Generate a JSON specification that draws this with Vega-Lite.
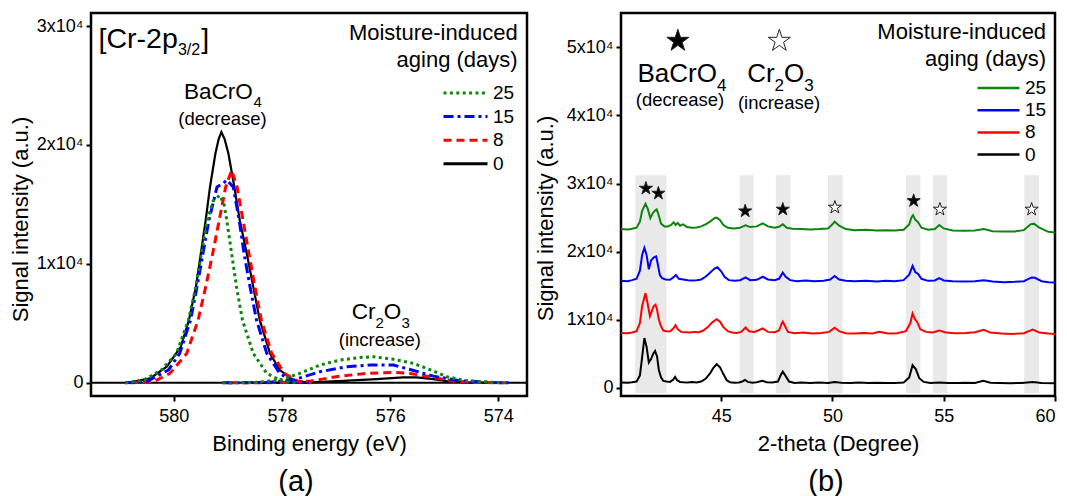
{
  "$schema": "https://vega.github.io/schema/vega-lite/v6.json",
  "background": "white",
  "padding": {"left": 8, "top": 11, "right": 5, "bottom": 0},
  "spacing": 0,
  "config": {
    "font": "Liberation Sans",
    "view": {"stroke": "#000", "strokeWidth": 2.5},
    "axis": {"grid": false, "domain": false, "tickColor": "#000", "tickWidth": 2, "tickSize": 5, "labelFontSize": 18, "labelColor": "#000", "labelPadding": 3, "titleFontSize": 22, "titleFontWeight": "normal", "titleColor": "#000"},
    "axisX": {"labelPadding": 6},
    "legend": {"labelFontSize": 19, "labelColor": "#000", "symbolType": "stroke", "padding": 0, "labelOffset": 4},
    "title": {"fontWeight": "normal", "color": "#000"}
  },
  "resolve": {"scale": {"color": "independent"}, "legend": {"color": "independent"}},
  "datasets": {
    "xps": [
      {"d":"0","p":"m","x":580.85,"y":0},{"d":"0","p":"m","x":580.44,"y":370},{"d":"0","p":"m","x":580.13,"y":1350},{"d":"0","p":"m","x":579.87,"y":3030},{"d":"0","p":"m","x":579.72,"y":5270},{"d":"0","p":"m","x":579.59,"y":8070},{"d":"0","p":"m","x":579.5,"y":10870},{"d":"0","p":"m","x":579.41,"y":13670},{"d":"0","p":"m","x":579.33,"y":16470},{"d":"0","p":"m","x":579.23,"y":19280},{"d":"0","p":"m","x":579.17,"y":20500},{"d":"0","p":"m","x":579.12,"y":21090},{"d":"0","p":"m","x":579.06,"y":20500},{"d":"0","p":"m","x":578.99,"y":19280},{"d":"0","p":"m","x":578.88,"y":16470},{"d":"0","p":"m","x":578.78,"y":13670},{"d":"0","p":"m","x":578.65,"y":10870},{"d":"0","p":"m","x":578.53,"y":8070},{"d":"0","p":"m","x":578.41,"y":5270},{"d":"0","p":"m","x":578.22,"y":2470},{"d":"0","p":"m","x":578.04,"y":1070},{"d":"0","p":"m","x":577.79,"y":230},{"d":"0","p":"m","x":577.5,"y":0},
      {"d":"0","p":"c","x":578.5,"y":0},{"d":"0","p":"c","x":577.48,"y":30},{"d":"0","p":"c","x":576.87,"y":170},{"d":"0","p":"c","x":576.25,"y":310},{"d":"0","p":"c","x":575.76,"y":450},{"d":"0","p":"c","x":575.51,"y":450},{"d":"0","p":"c","x":575.2,"y":310},{"d":"0","p":"c","x":574.95,"y":140},{"d":"0","p":"c","x":574.58,"y":30},{"d":"0","p":"c","x":574.0,"y":0},
      {"d":"8","p":"m","x":580.81,"y":0},{"d":"8","p":"m","x":580.38,"y":80},{"d":"8","p":"m","x":580.07,"y":790},{"d":"8","p":"m","x":579.76,"y":2470},{"d":"8","p":"m","x":579.55,"y":5270},{"d":"8","p":"m","x":579.41,"y":8070},{"d":"8","p":"m","x":579.28,"y":10870},{"d":"8","p":"m","x":579.16,"y":13670},{"d":"8","p":"m","x":579.04,"y":16470},{"d":"8","p":"m","x":578.93,"y":17870},{"d":"8","p":"m","x":578.83,"y":16470},{"d":"8","p":"m","x":578.72,"y":13670},{"d":"8","p":"m","x":578.61,"y":10870},{"d":"8","p":"m","x":578.5,"y":8070},{"d":"8","p":"m","x":578.38,"y":5270},{"d":"8","p":"m","x":578.19,"y":2470},{"d":"8","p":"m","x":577.95,"y":790},{"d":"8","p":"m","x":577.7,"y":100},{"d":"8","p":"m","x":577.45,"y":0},
      {"d":"8","p":"c","x":579.0,"y":0},{"d":"8","p":"c","x":578.0,"y":20},{"d":"8","p":"c","x":577.48,"y":140},{"d":"8","p":"c","x":576.93,"y":560},{"d":"8","p":"c","x":576.43,"y":790},{"d":"8","p":"c","x":575.94,"y":870},{"d":"8","p":"c","x":575.63,"y":790},{"d":"8","p":"c","x":575.2,"y":450},{"d":"8","p":"c","x":574.83,"y":140},{"d":"8","p":"c","x":574.46,"y":30},{"d":"8","p":"c","x":573.9,"y":0},
      {"d":"15","p":"m","x":580.9,"y":0},{"d":"15","p":"m","x":580.5,"y":100},{"d":"15","p":"m","x":580.1,"y":1070},{"d":"15","p":"m","x":579.89,"y":2470},{"d":"15","p":"m","x":579.69,"y":5270},{"d":"15","p":"m","x":579.57,"y":8070},{"d":"15","p":"m","x":579.46,"y":10870},{"d":"15","p":"m","x":579.35,"y":13670},{"d":"15","p":"m","x":579.2,"y":16470},{"d":"15","p":"m","x":579.08,"y":16800},{"d":"15","p":"m","x":579.02,"y":17050},{"d":"15","p":"m","x":578.9,"y":16470},{"d":"15","p":"m","x":578.79,"y":13670},{"d":"15","p":"m","x":578.7,"y":10870},{"d":"15","p":"m","x":578.59,"y":8070},{"d":"15","p":"m","x":578.47,"y":5270},{"d":"15","p":"m","x":578.28,"y":2470},{"d":"15","p":"m","x":578.04,"y":790},{"d":"15","p":"m","x":577.79,"y":100},{"d":"15","p":"m","x":577.5,"y":0},
      {"d":"15","p":"c","x":579.1,"y":0},{"d":"15","p":"c","x":578.3,"y":30},{"d":"15","p":"c","x":577.79,"y":230},{"d":"15","p":"c","x":577.3,"y":930},{"d":"15","p":"c","x":576.8,"y":1350},{"d":"15","p":"c","x":576.37,"y":1490},{"d":"15","p":"c","x":575.94,"y":1490},{"d":"15","p":"c","x":575.63,"y":1120},{"d":"15","p":"c","x":575.2,"y":560},{"d":"15","p":"c","x":574.71,"y":170},{"d":"15","p":"c","x":574.09,"y":30},{"d":"15","p":"c","x":573.8,"y":0},
      {"d":"25","p":"m","x":580.9,"y":0},{"d":"25","p":"m","x":580.57,"y":200},{"d":"25","p":"m","x":580.23,"y":1070},{"d":"25","p":"m","x":579.95,"y":2470},{"d":"25","p":"m","x":579.73,"y":5270},{"d":"25","p":"m","x":579.59,"y":8070},{"d":"25","p":"m","x":579.49,"y":10870},{"d":"25","p":"m","x":579.38,"y":13670},{"d":"25","p":"m","x":579.27,"y":15300},{"d":"25","p":"m","x":579.15,"y":15770},{"d":"25","p":"m","x":579.07,"y":15000},{"d":"25","p":"m","x":579.02,"y":13670},{"d":"25","p":"m","x":578.93,"y":10870},{"d":"25","p":"m","x":578.84,"y":8070},{"d":"25","p":"m","x":578.73,"y":5270},{"d":"25","p":"m","x":578.53,"y":2470},{"d":"25","p":"m","x":578.28,"y":790},{"d":"25","p":"m","x":577.98,"y":100},{"d":"25","p":"m","x":577.7,"y":0},
      {"d":"25","p":"c","x":579.1,"y":0},{"d":"25","p":"c","x":578.5,"y":30},{"d":"25","p":"c","x":578.04,"y":230},{"d":"25","p":"c","x":577.67,"y":790},{"d":"25","p":"c","x":577.3,"y":1490},{"d":"25","p":"c","x":576.93,"y":1910},{"d":"25","p":"c","x":576.56,"y":2130},{"d":"25","p":"c","x":576.31,"y":2190},{"d":"25","p":"c","x":575.94,"y":1980},{"d":"25","p":"c","x":575.57,"y":1630},{"d":"25","p":"c","x":575.32,"y":1210},{"d":"25","p":"c","x":574.95,"y":510},{"d":"25","p":"c","x":574.58,"y":170},{"d":"25","p":"c","x":574.09,"y":30},{"d":"25","p":"c","x":573.8,"y":0}
    ],
    "lt": [
      {"g":"big","t":"[Cr-2p","x":581.39,"y":28940},
      {"g":"big","t":"]","x":579.49,"y":28940},
      {"g":"bigsub","t":"3/2","x":579.924,"y":28020},
      {"g":"main","t":"BaCrO","x":579.813,"y":24450},
      {"g":"main","t":"Cr","x":576.712,"y":5966},
      {"g":"main","t":"O","x":576.118,"y":5966},
      {"g":"sub","t":"4","x":578.528,"y":23610},
      {"g":"sub","t":"2","x":576.272,"y":4990},
      {"g":"sub","t":"3","x":575.791,"y":4990},
      {"g":"note","t":"(decrease)","x":579.1,"y":22220},
      {"g":"note","t":"(increase)","x":576.19,"y":3588},
      {"g":"head","t":"Moisture-induced","x":573.643,"y":29450},
      {"g":"head","t":"aging (days)","x":573.643,"y":27120}
    ],
    "rt": [
      {"g":"main","t":"BaCrO","x":41.24,"y":46060},
      {"g":"sub","t":"4","x":44.816,"y":44300},
      {"g":"main","t":"Cr","x":46.168,"y":46060},
      {"g":"sub","t":"2","x":47.399,"y":44300},
      {"g":"main","t":"O","x":47.826,"y":46060},
      {"g":"sub","t":"3","x":48.733,"y":44300},
      {"g":"note","t":"(decrease)","x":43.154,"y":42250},
      {"g":"note","t":"(increase)","x":47.6,"y":41760},
      {"g":"head","t":"Moisture-induced","x":59.6,"y":52280},
      {"g":"head","t":"aging (days)","x":59.6,"y":48220}
    ],
    "bands": [
      {"x":41.14,"x2":42.54,"y":31230,"y2":-780},
      {"x":45.83,"x2":46.46,"y":31230,"y2":-780},
      {"x":47.46,"x2":48.11,"y":31230,"y2":-780},
      {"x":49.8,"x2":50.46,"y":31230,"y2":-780},
      {"x":53.31,"x2":53.95,"y":31230,"y2":-780},
      {"x":54.52,"x2":55.15,"y":31230,"y2":-780},
      {"x":58.62,"x2":59.28,"y":31230,"y2":-780}
    ],
    "stars": [
      {"s":"big","ph":"BaCrO4","x":43.055,"y":50950},
      {"s":"big","ph":"Cr2O3","x":47.615,"y":50950},
      {"s":"small","ph":"BaCrO4","x":41.62,"y":29280},
      {"s":"small","ph":"BaCrO4","x":42.18,"y":28550},
      {"s":"small","ph":"BaCrO4","x":46.08,"y":25950},
      {"s":"small","ph":"BaCrO4","x":47.77,"y":26200},
      {"s":"small","ph":"Cr2O3","x":50.11,"y":26490},
      {"s":"small","ph":"BaCrO4","x":53.65,"y":27460},
      {"s":"small","ph":"Cr2O3","x":54.83,"y":26200},
      {"s":"small","ph":"Cr2O3","x":58.95,"y":26200}
    ],
    "xrd": [
      {"d":"0","x":40.5,"y":760},{"d":"0","x":40.8,"y":720},{"d":"0","x":41.0,"y":800},{"d":"0","x":41.2,"y":900},{"d":"0","x":41.35,"y":1800},{"d":"0","x":41.45,"y":4500},{"d":"0","x":41.55,"y":7300},{"d":"0","x":41.65,"y":6000},{"d":"0","x":41.75,"y":3700},{"d":"0","x":41.85,"y":4200},{"d":"0","x":41.95,"y":5000},{"d":"0","x":42.03,"y":5400},{"d":"0","x":42.12,"y":4600},{"d":"0","x":42.2,"y":2600},{"d":"0","x":42.3,"y":1500},{"d":"0","x":42.4,"y":1000},{"d":"0","x":42.55,"y":900},{"d":"0","x":42.7,"y":850},{"d":"0","x":42.85,"y":1200},{"d":"0","x":42.93,"y":1600},{"d":"0","x":43.02,"y":1100},{"d":"0","x":43.15,"y":850},{"d":"0","x":43.3,"y":800},{"d":"0","x":43.5,"y":760},{"d":"0","x":43.7,"y":820},{"d":"0","x":43.9,"y":780},{"d":"0","x":44.1,"y":900},{"d":"0","x":44.3,"y":1300},{"d":"0","x":44.5,"y":2100},{"d":"0","x":44.65,"y":2900},{"d":"0","x":44.8,"y":3450},{"d":"0","x":44.95,"y":3000},{"d":"0","x":45.1,"y":2000},{"d":"0","x":45.25,"y":1100},{"d":"0","x":45.4,"y":800},{"d":"0","x":45.6,"y":720},{"d":"0","x":45.8,"y":780},{"d":"0","x":45.95,"y":900},{"d":"0","x":46.07,"y":1150},{"d":"0","x":46.2,"y":850},{"d":"0","x":46.4,"y":720},{"d":"0","x":46.6,"y":800},{"d":"0","x":46.85,"y":1000},{"d":"0","x":47.05,"y":800},{"d":"0","x":47.3,"y":780},{"d":"0","x":47.55,"y":900},{"d":"0","x":47.7,"y":2000},{"d":"0","x":47.77,"y":2350},{"d":"0","x":47.9,"y":1700},{"d":"0","x":48.05,"y":900},{"d":"0","x":48.3,"y":700},{"d":"0","x":48.6,"y":750},{"d":"0","x":49.0,"y":700},{"d":"0","x":49.4,"y":760},{"d":"0","x":49.8,"y":700},{"d":"0","x":50.1,"y":850},{"d":"0","x":50.4,"y":720},{"d":"0","x":50.8,"y":680},{"d":"0","x":51.2,"y":750},{"d":"0","x":51.6,"y":690},{"d":"0","x":52.0,"y":720},{"d":"0","x":52.4,"y":700},{"d":"0","x":52.8,"y":680},{"d":"0","x":53.2,"y":750},{"d":"0","x":53.45,"y":1500},{"d":"0","x":53.6,"y":3300},{"d":"0","x":53.75,"y":2700},{"d":"0","x":53.9,"y":1400},{"d":"0","x":54.1,"y":850},{"d":"0","x":54.4,"y":700},{"d":"0","x":54.8,"y":760},{"d":"0","x":55.2,"y":700},{"d":"0","x":55.6,"y":680},{"d":"0","x":56.0,"y":720},{"d":"0","x":56.4,"y":700},{"d":"0","x":56.78,"y":1000},{"d":"0","x":57.1,"y":720},{"d":"0","x":57.5,"y":680},{"d":"0","x":58.0,"y":660},{"d":"0","x":58.5,"y":700},{"d":"0","x":59.0,"y":820},{"d":"0","x":59.4,"y":680},{"d":"0","x":60.0,"y":650},
      {"d":"8","x":40.5,"y":8050},{"d":"8","x":40.8,"y":8000},{"d":"8","x":41.0,"y":8100},{"d":"8","x":41.2,"y":8300},{"d":"8","x":41.35,"y":9500},{"d":"8","x":41.45,"y":12000},{"d":"8","x":41.6,"y":13900},{"d":"8","x":41.7,"y":12300},{"d":"8","x":41.8,"y":10500},{"d":"8","x":41.9,"y":11400},{"d":"8","x":41.97,"y":12000},{"d":"8","x":42.05,"y":12200},{"d":"8","x":42.12,"y":11500},{"d":"8","x":42.2,"y":10000},{"d":"8","x":42.3,"y":9000},{"d":"8","x":42.4,"y":8400},{"d":"8","x":42.55,"y":8300},{"d":"8","x":42.7,"y":8250},{"d":"8","x":42.85,"y":8700},{"d":"8","x":42.95,"y":9200},{"d":"8","x":43.05,"y":8600},{"d":"8","x":43.2,"y":8200},{"d":"8","x":43.4,"y":8150},{"d":"8","x":43.6,"y":8100},{"d":"8","x":43.8,"y":8200},{"d":"8","x":44.0,"y":8150},{"d":"8","x":44.2,"y":8400},{"d":"8","x":44.4,"y":8900},{"d":"8","x":44.6,"y":9600},{"d":"8","x":44.8,"y":10050},{"d":"8","x":44.95,"y":9700},{"d":"8","x":45.1,"y":8900},{"d":"8","x":45.3,"y":8300},{"d":"8","x":45.5,"y":8100},{"d":"8","x":45.7,"y":8050},{"d":"8","x":45.9,"y":8200},{"d":"8","x":46.1,"y":8850},{"d":"8","x":46.25,"y":8300},{"d":"8","x":46.5,"y":8200},{"d":"8","x":46.87,"y":8700},{"d":"8","x":47.1,"y":8200},{"d":"8","x":47.4,"y":8150},{"d":"8","x":47.6,"y":8400},{"d":"8","x":47.72,"y":9400},{"d":"8","x":47.77,"y":9700},{"d":"8","x":47.88,"y":9000},{"d":"8","x":48.0,"y":8200},{"d":"8","x":48.3,"y":8000},{"d":"8","x":48.7,"y":8100},{"d":"8","x":49.1,"y":7950},{"d":"8","x":49.5,"y":8050},{"d":"8","x":49.85,"y":8200},{"d":"8","x":50.1,"y":8800},{"d":"8","x":50.3,"y":8300},{"d":"8","x":50.6,"y":8000},{"d":"8","x":51.0,"y":7950},{"d":"8","x":51.4,"y":8050},{"d":"8","x":51.8,"y":7950},{"d":"8","x":52.1,"y":8200},{"d":"8","x":52.5,"y":7950},{"d":"8","x":52.9,"y":8000},{"d":"8","x":53.3,"y":8300},{"d":"8","x":53.5,"y":9500},{"d":"8","x":53.6,"y":10900},{"d":"8","x":53.7,"y":10100},{"d":"8","x":53.8,"y":9700},{"d":"8","x":53.95,"y":8600},{"d":"8","x":54.2,"y":8200},{"d":"8","x":54.5,"y":8100},{"d":"8","x":54.8,"y":8400},{"d":"8","x":55.1,"y":8100},{"d":"8","x":55.5,"y":8000},{"d":"8","x":56.0,"y":8050},{"d":"8","x":56.4,"y":8150},{"d":"8","x":56.8,"y":8500},{"d":"8","x":57.1,"y":8100},{"d":"8","x":57.6,"y":7950},{"d":"8","x":58.1,"y":7900},{"d":"8","x":58.6,"y":8000},{"d":"8","x":59.0,"y":8550},{"d":"8","x":59.3,"y":8100},{"d":"8","x":59.7,"y":7950},{"d":"8","x":60.0,"y":7900},
      {"d":"15","x":40.5,"y":15700},{"d":"15","x":40.8,"y":15650},{"d":"15","x":41.0,"y":15800},{"d":"15","x":41.2,"y":16000},{"d":"15","x":41.35,"y":17200},{"d":"15","x":41.45,"y":19500},{"d":"15","x":41.55,"y":20550},{"d":"15","x":41.65,"y":19500},{"d":"15","x":41.75,"y":17400},{"d":"15","x":41.85,"y":18700},{"d":"15","x":41.93,"y":19000},{"d":"15","x":42.0,"y":19200},{"d":"15","x":42.08,"y":19300},{"d":"15","x":42.15,"y":18200},{"d":"15","x":42.25,"y":16500},{"d":"15","x":42.35,"y":16100},{"d":"15","x":42.5,"y":15900},{"d":"15","x":42.7,"y":15850},{"d":"15","x":42.85,"y":16200},{"d":"15","x":42.97,"y":16550},{"d":"15","x":43.1,"y":16000},{"d":"15","x":43.3,"y":15900},{"d":"15","x":43.5,"y":15800},{"d":"15","x":43.7,"y":15750},{"d":"15","x":43.9,"y":15800},{"d":"15","x":44.1,"y":15900},{"d":"15","x":44.3,"y":16300},{"d":"15","x":44.5,"y":16900},{"d":"15","x":44.7,"y":17500},{"d":"15","x":44.83,"y":17700},{"d":"15","x":45.0,"y":17100},{"d":"15","x":45.15,"y":16300},{"d":"15","x":45.35,"y":15800},{"d":"15","x":45.6,"y":15700},{"d":"15","x":45.85,"y":15800},{"d":"15","x":46.1,"y":16200},{"d":"15","x":46.3,"y":15800},{"d":"15","x":46.6,"y":15850},{"d":"15","x":46.87,"y":16300},{"d":"15","x":47.1,"y":15900},{"d":"15","x":47.4,"y":15800},{"d":"15","x":47.6,"y":16000},{"d":"15","x":47.77,"y":16900},{"d":"15","x":47.9,"y":16300},{"d":"15","x":48.1,"y":15800},{"d":"15","x":48.4,"y":15650},{"d":"15","x":48.8,"y":15750},{"d":"15","x":49.2,"y":15650},{"d":"15","x":49.6,"y":15700},{"d":"15","x":49.9,"y":15900},{"d":"15","x":50.1,"y":16400},{"d":"15","x":50.3,"y":15900},{"d":"15","x":50.6,"y":15700},{"d":"15","x":51.0,"y":15650},{"d":"15","x":51.5,"y":15700},{"d":"15","x":52.0,"y":15600},{"d":"15","x":52.4,"y":15700},{"d":"15","x":52.8,"y":15650},{"d":"15","x":53.2,"y":15800},{"d":"15","x":53.45,"y":16600},{"d":"15","x":53.6,"y":17900},{"d":"15","x":53.72,"y":17000},{"d":"15","x":53.85,"y":16700},{"d":"15","x":54.0,"y":16000},{"d":"15","x":54.3,"y":15700},{"d":"15","x":54.6,"y":15750},{"d":"15","x":54.8,"y":16100},{"d":"15","x":55.0,"y":15750},{"d":"15","x":55.4,"y":15650},{"d":"15","x":55.9,"y":15600},{"d":"15","x":56.4,"y":15650},{"d":"15","x":56.8,"y":15800},{"d":"15","x":57.2,"y":15600},{"d":"15","x":57.7,"y":15500},{"d":"15","x":58.2,"y":15550},{"d":"15","x":58.6,"y":15650},{"d":"15","x":58.95,"y":16200},{"d":"15","x":59.1,"y":16150},{"d":"15","x":59.4,"y":15650},{"d":"15","x":59.7,"y":15500},{"d":"15","x":60.0,"y":15450},
      {"d":"25","x":40.5,"y":23300},{"d":"25","x":40.8,"y":23250},{"d":"25","x":41.0,"y":23350},{"d":"25","x":41.2,"y":23500},{"d":"25","x":41.35,"y":24400},{"d":"25","x":41.45,"y":26000},{"d":"25","x":41.6,"y":27000},{"d":"25","x":41.7,"y":26300},{"d":"25","x":41.82,"y":24900},{"d":"25","x":41.92,"y":25600},{"d":"25","x":42.02,"y":26000},{"d":"25","x":42.1,"y":26200},{"d":"25","x":42.18,"y":25500},{"d":"25","x":42.3,"y":24100},{"d":"25","x":42.45,"y":23700},{"d":"25","x":42.6,"y":23700},{"d":"25","x":42.75,"y":23900},{"d":"25","x":42.87,"y":24300},{"d":"25","x":42.95,"y":23900},{"d":"25","x":43.05,"y":24200},{"d":"25","x":43.15,"y":23800},{"d":"25","x":43.3,"y":24000},{"d":"25","x":43.45,"y":23600},{"d":"25","x":43.7,"y":23500},{"d":"25","x":43.9,"y":23550},{"d":"25","x":44.1,"y":23700},{"d":"25","x":44.3,"y":24000},{"d":"25","x":44.5,"y":24400},{"d":"25","x":44.7,"y":24900},{"d":"25","x":44.8,"y":25000},{"d":"25","x":44.95,"y":24600},{"d":"25","x":45.1,"y":23900},{"d":"25","x":45.3,"y":23500},{"d":"25","x":45.55,"y":23400},{"d":"25","x":45.8,"y":23450},{"d":"25","x":46.1,"y":23850},{"d":"25","x":46.3,"y":23600},{"d":"25","x":46.6,"y":23700},{"d":"25","x":46.87,"y":24150},{"d":"25","x":47.1,"y":23700},{"d":"25","x":47.4,"y":23500},{"d":"25","x":47.6,"y":23650},{"d":"25","x":47.77,"y":24000},{"d":"25","x":47.95,"y":23500},{"d":"25","x":48.2,"y":23350},{"d":"25","x":48.6,"y":23300},{"d":"25","x":49.0,"y":23250},{"d":"25","x":49.4,"y":23300},{"d":"25","x":49.8,"y":23400},{"d":"25","x":50.0,"y":24000},{"d":"25","x":50.1,"y":24400},{"d":"25","x":50.3,"y":23800},{"d":"25","x":50.6,"y":23300},{"d":"25","x":51.0,"y":23150},{"d":"25","x":51.5,"y":23200},{"d":"25","x":52.0,"y":23100},{"d":"25","x":52.4,"y":23150},{"d":"25","x":52.8,"y":23100},{"d":"25","x":53.2,"y":23200},{"d":"25","x":53.45,"y":24000},{"d":"25","x":53.55,"y":25000},{"d":"25","x":53.62,"y":25350},{"d":"25","x":53.72,"y":24700},{"d":"25","x":53.85,"y":24300},{"d":"25","x":54.0,"y":23500},{"d":"25","x":54.3,"y":23200},{"d":"25","x":54.6,"y":23300},{"d":"25","x":54.8,"y":23900},{"d":"25","x":55.0,"y":23400},{"d":"25","x":55.4,"y":23100},{"d":"25","x":55.9,"y":23050},{"d":"25","x":56.4,"y":23100},{"d":"25","x":56.8,"y":23300},{"d":"25","x":57.2,"y":23000},{"d":"25","x":57.7,"y":22950},{"d":"25","x":58.2,"y":22950},{"d":"25","x":58.6,"y":23150},{"d":"25","x":58.9,"y":24000},{"d":"25","x":59.05,"y":24100},{"d":"25","x":59.3,"y":23500},{"d":"25","x":59.7,"y":22900},{"d":"25","x":60.0,"y":22800}
    ]
  },
  "hconcat": [
    {
      "width": 436,
      "height": 383,
      "title": {"text": "(a)", "orient": "bottom", "fontSize": 29, "offset": 14, "dx": -13},
      "encoding": {
        "x": {"field": "x", "type": "quantitative", "scale": {"domain": [573.47, 581.53], "reverse": true, "nice": false, "zero": false},
              "axis": {"values": [574, 576, 578, 580], "title": "Binding energy (eV)", "titleX": 218, "titleY": 47, "titleBaseline": "middle"}},
        "y": {"field": "y", "type": "quantitative", "scale": {"domain": [-1110, 31100], "nice": false, "zero": false},
              "axis": {"values": [0, 10000, 20000, 30000], "labelExpr": "datum.value == 0 ? '0' : format(datum.value / 10000, 'd') + 'x10⁴'", "title": "Signal intensity (a.u.)", "titleX": -70.6, "titleY": 206, "titleBaseline": "middle"}}
      },
      "layer": [
        {"data": {"values": [{"x": 573.47, "y": 0}, {"x": 581.53, "y": 0}]}, "mark": {"type": "line", "color": "#000", "strokeWidth": 2}},
        {
          "data": {"name": "xps"},
          "transform": [{"filter": "datum.d == '0'"}],
          "mark": {"type": "line", "strokeWidth": 2.2},
          "encoding": {
            "color": {"field": "d", "type": "nominal", "scale": {"domain": ["25", "15", "8", "0"], "range": ["#0d850d", "#0000ff", "#ff0000", "#000000"]},
                      "legend": {"orient": "none", "legendX": 351, "legendY": 70, "title": null, "symbolSize": 1936, "clipHeight": 20, "rowPadding": 3.6, "symbolStrokeWidth": 3,
                                 "encode": {"symbols": {"update": {"strokeDash": {"signal": "datum.value == '25' ? [3, 3.4] : datum.value == '15' ? [10, 4, 3, 4] : datum.value == '8' ? [8, 5] : [1, 0]"}}}}}},
            "detail": {"field": "p", "type": "nominal"}
          }
        },
        {
          "data": {"name": "xps"},
          "transform": [{"filter": "datum.d == '8'"}],
          "mark": {"type": "line", "strokeWidth": 3, "strokeDash": [8, 5]},
          "encoding": {
            "color": {"field": "d", "type": "nominal", "scale": {"domain": ["25", "15", "8", "0"], "range": ["#0d850d", "#0000ff", "#ff0000", "#000000"]}},
            "detail": {"field": "p", "type": "nominal"}
          }
        },
        {
          "data": {"name": "xps"},
          "transform": [{"filter": "datum.d == '15'"}],
          "mark": {"type": "line", "strokeWidth": 3, "strokeDash": [10, 4, 3, 4]},
          "encoding": {
            "color": {"field": "d", "type": "nominal", "scale": {"domain": ["25", "15", "8", "0"], "range": ["#0d850d", "#0000ff", "#ff0000", "#000000"]}},
            "detail": {"field": "p", "type": "nominal"}
          }
        },
        {
          "data": {"name": "xps"},
          "transform": [{"filter": "datum.d == '25'"}],
          "mark": {"type": "line", "strokeWidth": 3, "strokeDash": [3, 3.4]},
          "encoding": {
            "color": {"field": "d", "type": "nominal", "scale": {"domain": ["25", "15", "8", "0"], "range": ["#0d850d", "#0000ff", "#ff0000", "#000000"]}},
            "detail": {"field": "p", "type": "nominal"}
          }
        },
        {"data": {"name": "lt"}, "transform": [{"filter": "datum.g == 'big'"}], "mark": {"type": "text", "align": "left", "baseline": "middle", "fontSize": 28.5}, "encoding": {"text": {"field": "t", "type": "nominal"}}},
        {"data": {"name": "lt"}, "transform": [{"filter": "datum.g == 'bigsub'"}], "mark": {"type": "text", "align": "left", "baseline": "middle", "fontSize": 16}, "encoding": {"text": {"field": "t", "type": "nominal"}}},
        {"data": {"name": "lt"}, "transform": [{"filter": "datum.g == 'main'"}], "mark": {"type": "text", "align": "left", "baseline": "middle", "fontSize": 22.5}, "encoding": {"text": {"field": "t", "type": "nominal"}}},
        {"data": {"name": "lt"}, "transform": [{"filter": "datum.g == 'sub'"}], "mark": {"type": "text", "align": "left", "baseline": "middle", "fontSize": 15}, "encoding": {"text": {"field": "t", "type": "nominal"}}},
        {"data": {"name": "lt"}, "transform": [{"filter": "datum.g == 'note'"}], "mark": {"type": "text", "align": "center", "baseline": "middle", "fontSize": 18.5}, "encoding": {"text": {"field": "t", "type": "nominal"}}},
        {"data": {"name": "lt"}, "transform": [{"filter": "datum.g == 'head'"}], "mark": {"type": "text", "align": "right", "baseline": "middle", "fontSize": 22}, "encoding": {"text": {"field": "t", "type": "nominal"}}}
      ]
    },
    {
      "width": 434,
      "height": 383,
      "title": {"text": "(b)", "orient": "bottom", "fontSize": 29, "offset": 14, "dx": -12},
      "encoding": {
        "x": {"field": "x", "type": "quantitative", "scale": {"domain": [40.5, 60], "nice": false, "zero": false},
              "axis": {"values": [45, 50, 55, 60], "title": "2-theta (Degree)", "titleX": 217, "titleY": 47, "titleBaseline": "middle"}},
        "y": {"field": "y", "type": "quantitative", "scale": {"domain": [-1220, 55050], "nice": false, "zero": false},
              "axis": {"values": [0, 10000, 20000, 30000, 40000, 50000], "labelExpr": "datum.value == 0 ? '0' : format(datum.value / 10000, 'd') + 'x10⁴'", "title": "Signal intensity (a.u.)", "titleX": -75.4, "titleY": 205, "titleBaseline": "middle"}}
      },
      "layer": [
        {"data": {"name": "bands"}, "mark": {"type": "rect", "color": "#e9e9e9"}, "encoding": {"x2": {"field": "x2"}, "y2": {"field": "y2"}}},
        {
          "data": {"name": "xrd"},
          "mark": {"type": "line", "strokeWidth": 2},
          "encoding": {
            "color": {"field": "d", "type": "nominal", "scale": {"domain": ["25", "15", "8", "0"], "range": ["#0d850d", "#0000ff", "#ff0000", "#000000"]},
                      "legend": {"orient": "none", "legendX": 355, "legendY": 65, "title": null, "symbolSize": 1764, "clipHeight": 20, "rowPadding": 2.2, "symbolStrokeWidth": 2.5}}
          }
        },
        {
          "data": {"name": "stars"},
          "transform": [{"filter": "datum.s == 'big'"}],
          "mark": {"type": "point", "shape": "M0,-1L0.2245,-0.309L0.951,-0.309L0.363,0.118L0.588,0.809L0,0.382L-0.588,0.809L-0.363,0.118L-0.951,-0.309L-0.2245,-0.309Z", "filled": true, "stroke": "#222", "strokeWidth": 1, "opacity": 1, "size": 540},
          "encoding": {"fill": {"condition": {"test": "datum.ph == 'BaCrO4'", "value": "#000000"}, "value": "#ffffff"}}
        },
        {
          "data": {"name": "stars"},
          "transform": [{"filter": "datum.s == 'small'"}],
          "mark": {"type": "point", "shape": "M0,-1L0.2245,-0.309L0.951,-0.309L0.363,0.118L0.588,0.809L0,0.382L-0.588,0.809L-0.363,0.118L-0.951,-0.309L-0.2245,-0.309Z", "filled": true, "stroke": "#222", "strokeWidth": 1, "opacity": 1, "size": 190},
          "encoding": {"fill": {"condition": {"test": "datum.ph == 'BaCrO4'", "value": "#000000"}, "value": "#ffffff"}}
        },
        {"data": {"name": "rt"}, "transform": [{"filter": "datum.g == 'main'"}], "mark": {"type": "text", "align": "left", "baseline": "middle", "fontSize": 26}, "encoding": {"text": {"field": "t", "type": "nominal"}}},
        {"data": {"name": "rt"}, "transform": [{"filter": "datum.g == 'sub'"}], "mark": {"type": "text", "align": "left", "baseline": "middle", "fontSize": 17}, "encoding": {"text": {"field": "t", "type": "nominal"}}},
        {"data": {"name": "rt"}, "transform": [{"filter": "datum.g == 'note'"}], "mark": {"type": "text", "align": "center", "baseline": "middle", "fontSize": 18.5}, "encoding": {"text": {"field": "t", "type": "nominal"}}},
        {"data": {"name": "rt"}, "transform": [{"filter": "datum.g == 'head'"}], "mark": {"type": "text", "align": "right", "baseline": "middle", "fontSize": 22}, "encoding": {"text": {"field": "t", "type": "nominal"}}}
      ]
    }
  ]
}
